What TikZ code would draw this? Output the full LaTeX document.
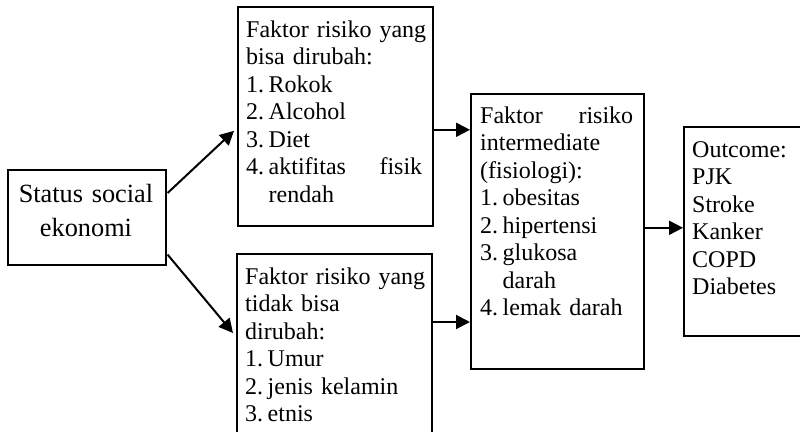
\documentclass[tikz,border=0pt]{standalone}
\usepackage{fontspec}
\setmainfont{Liberation Serif}
\usetikzlibrary{arrows.meta,calc}

\newlength{\numw}
\setlength{\numw}{22.5pt}
\newcommand{\itm}[1]{\makebox[\numw][l]{#1}}
\newcommand{\jst}[2]{\makebox[#1][l]{#2}}

\begin{document}
\begin{tikzpicture}[
      x=1pt,
      y=-1pt,
      >={Triangle[length=14pt,width=14pt]},
      box/.style={draw, line width=1.6pt, inner sep=0pt, anchor=north west},
      txt/.style={anchor=base west, inner sep=0pt, text width=#1, align=left,
        font=\fontsize{24}{27.5}\selectfont},
      link/.style={->, line width=2pt}
    ]

    % --- 1. page frame ---
    \useasboundingbox (0,0) rectangle (800,431);
    \clip (0,0) rectangle (800,431);

    % --- 2. boxes ---
    \node[box, minimum width=158pt, minimum height=95pt]  (stat)   at (7,169)   {};
    \node[box, minimum width=195pt, minimum height=219pt] (mod)    at (237,6)   {};
    \node[box, minimum width=195pt, minimum height=220pt] (nonmod) at (236,253) {};
    \node[box, minimum width=173pt, minimum height=275pt] (inter)  at (470,93)  {};
    \node[box, minimum width=140pt, minimum height=209pt] (outc)   at (683,126) {};

    % --- 3. texts ---
    \node[anchor=base, inner sep=0pt, text width=150pt, align=center,
      font=\fontsize{26.3}{34}\selectfont] (stat-txt) at (86,202)
      {Status social\\ ekonomi};

    \node[txt=190pt] (mod-txt) at ($(mod.north west)+(9,31)$)
      {Faktor risiko yang\\ bisa dirubah:\\ \itm{1.}Rokok\\ \itm{2.}Alcohol\\
       \itm{3.}Diet\\ \jst{176pt}{\itm{4.}aktifitas\hfill fisik}\\
       \hspace*{\numw}rendah};

    \node[txt=190pt] (nonmod-txt) at ($(nonmod.north west)+(9,31)$)
      {Faktor risiko yang\\ tidak bisa\\ dirubah:\\ \itm{1.}Umur\\
       \itm{2.}jenis kelamin\\ \itm{3.}etnis};

    \node[txt=170pt] (inter-txt) at ($(inter.north west)+(10,30)$)
      {\jst{153pt}{Faktor\hfill risiko}\\ intermediate\\ (fisiologi):\\
       \itm{1.}obesitas\\ \itm{2.}hipertensi\\ \itm{3.}glukosa\\
       \hspace*{\numw}darah\\ \itm{4.}lemak darah};

    \node[txt=110pt] (outc-txt) at ($(outc.north west)+(9,31)$)
      {Outcome:\\ PJK\\ Stroke\\ Kanker\\ COPD\\ Diabetes};

    % --- 4. arrows ---
    % from the status box to both risk boxes
    \draw[link] ($(stat.north east)+(1,24)$) -- ($(mod.west)+(-3,14.5)$);
    \draw[link] ($(stat.south east)+(1,-11)$) -- ($(nonmod.north west)+(-3,80)$);

    % risk boxes -> intermediate -> outcome
    \coordinate (a1) at ($(mod.east)+(0,13.5)$);
    \coordinate (b1) at ($(nonmod.north east)+(0,69)$);
    \coordinate (c1) at ($(inter.east)+(0,-3.5)$);
    \draw[link] (a1) -- (a1 -| inter.west);
    \draw[link] (b1) -- (b1 -| inter.west);
    \draw[link] (c1) -- (c1 -| outc.west);

  \end{tikzpicture}
\end{document}
